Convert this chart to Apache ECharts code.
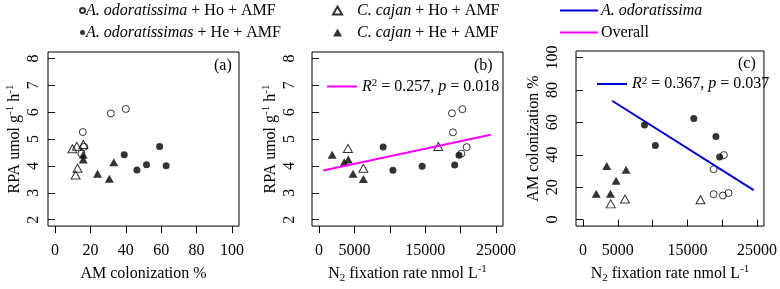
<!DOCTYPE html>
<html>
<head>
<meta charset="utf-8">
<script src="https://cdn.jsdelivr.net/npm/echarts@6/dist/echarts.min.js"></script>
<style>
  html, body { margin: 0; padding: 0; background: #fff; }
  #chart { width: 780px; height: 289px; }
</style>
</head>
<body>
<div id="chart"></div>
<script>
// series names
var nAoHo = 'A. odoratissima + Ho + AMF';
var nAoHe = 'A. odoratissimas + He + AMF';
var nCcHo = 'C. cajan + Ho + AMF';
var nCcHe = 'C. cajan + He + AMF';

// panel (a): AM colonization % vs RPA
var aoHoA = [[31.5, 5.95], [40.0, 6.12], [15.7, 5.26], [16.5, 4.71], [14.9, 4.46]];
var aoHeA = [[39.1, 4.42], [59.1, 4.72], [46.3, 3.85], [51.7, 4.04], [62.8, 4.01]];
var ccHoA = [[9.8, 4.64], [12.3, 4.73], [16.0, 4.80], [12.7, 3.91], [11.6, 3.66]];
var ccHeA = [[15.9, 4.42], [15.9, 4.24], [24.0, 3.71], [30.7, 3.52], [33.2, 4.14]];

// panel (b): N2 fixation rate vs RPA
var aoHoB = [[18780, 5.96], [20260, 6.11], [18920, 5.25], [20870, 4.70], [20120, 4.46]];
var aoHeB = [[9060, 4.70], [10440, 3.84], [14570, 3.99], [19170, 4.03], [19780, 4.40]];
var ccHoB = [[4080, 4.65], [6260, 3.91], [16850, 4.72]];
var ccHeB = [[1850, 4.42], [3560, 4.14], [4130, 4.24], [4800, 3.71], [6260, 3.51]];

// panel (c): N2 fixation rate vs AM colonization %
var aoHoC = [[18770, 31.1], [20240, 39.8], [18770, 15.7], [20100, 14.9], [20910, 16.4]];
var aoHeC = [[8840, 58.4], [10400, 45.7], [15920, 62.4], [19100, 51.3], [19630, 38.6]];
var ccHoC = [[3990, 9.7], [6040, 12.7], [16880, 12.3]];
var ccHeC = [[1910, 15.9], [3420, 33.1], [3950, 15.9], [4760, 24.0], [6190, 30.7]];

// fitted regression lines (end points)
var overallFit = [[570, 3.83], [24290, 5.16]];
var aoFit = [[4190, 73.3], [24520, 18.2]];

// tick labels
var amTicks = [0, 20, 40, 60, 80, 100];
var n2Ticks = [0, 5000, 10000, 15000, 20000, 25000];
var n2Labels = [0, 5000, 15000, 25000];
var rpaTicks = [2, 3, 4, 5, 6, 7, 8];
var amcTicks = [0, 20, 40, 60, 80, 100];

var font = 'Liberation Serif';
var rich = {
  i: {fontFamily: font, fontSize: 16, fontStyle: 'italic', color: '#000'},
  sup: {fontFamily: font, fontSize: 11, lineHeight: 11, verticalAlign: 'top', color: '#000'},
  sub: {fontFamily: font, fontSize: 11, lineHeight: 11, verticalAlign: 'bottom', color: '#000'}
};

var chart = echarts.init(document.getElementById('chart'));

function pts(name, data, idx, symbol, filled, size) {
  return {
    type: 'scatter',
    name: name,
    data: data,
    xAxisIndex: idx,
    yAxisIndex: idx,
    symbol: symbol,
    symbolSize: size,
    itemStyle: filled ? {color: '#000'} : {color: 'rgba(0,0,0,0)', borderColor: '#000', borderWidth: 1},
    emphasis: {disabled: true},
    silent: true
  };
}

function fit(name, data, idx, color) {
  return {
    type: 'line',
    name: name,
    data: data,
    xAxisIndex: idx,
    yAxisIndex: idx,
    symbol: 'none',
    color: color,
    lineStyle: {color: color, width: 2},
    emphasis: {disabled: true},
    silent: true
  };
}

function xAxis(idx, min, max, ticks, labels, name) {
  return {
    type: 'value', gridIndex: idx, min: min, max: max,
    axisLine: {show: false},
    splitLine: {show: false},
    axisTick: {show: true, length: 7, customValues: ticks, lineStyle: {color: '#000'}},
    axisLabel: {customValues: labels, margin: 17, color: '#000', fontFamily: font, fontSize: 16,
      formatter: function (v) { return String(v); }},
    name: name, nameLocation: 'middle', nameGap: 37,
    nameTextStyle: {color: '#000', fontFamily: font, fontSize: 16, lineHeight: 20, rich: rich}
  };
}

function yAxis(idx, min, max, ticks, name, margin, gap) {
  return {
    type: 'value', gridIndex: idx, min: min, max: max,
    axisLine: {show: false},
    splitLine: {show: false},
    axisTick: {show: true, length: 7, customValues: ticks, lineStyle: {color: '#000'}},
    axisLabel: {customValues: ticks, rotate: 90, margin: margin, color: '#000', fontFamily: font, fontSize: 16,
      formatter: function (v) { return String(v); }},
    name: name, nameLocation: 'middle', nameGap: gap,
    nameTextStyle: {color: '#000', fontFamily: font, fontSize: 16, lineHeight: 20, rich: rich}
  };
}

var rpaName = 'RPA umol g{sup|-1} h{sup|-1}';
var n2Name = 'N{sub|2} fixation rate nmol L{sup|-1}';

function italicName(name) {
  if (name === 'Overall') return name;
  var k = name.indexOf(' + ');
  if (k < 0) return '{i|' + name + '}';
  return '{i|' + name.slice(0, k) + '}' + name.slice(k);
}

function legendText(pad) {
  return {color: '#000', fontFamily: font, fontSize: 16, lineHeight: 17, padding: pad, rich: rich};
}

var option = {
  animation: false,
  textStyle: {fontFamily: font},
  grid: [
    {left: 48, top: 52, width: 191, height: 181.5, show: true, borderColor: '#000', borderWidth: 1},
    {left: 312, top: 52, width: 191, height: 181.5, show: true, borderColor: '#000', borderWidth: 1},
    {left: 576, top: 51, width: 189, height: 182, show: true, borderColor: '#000', borderWidth: 1}
  ],
  xAxis: [
    xAxis(0, -4, 104, amTicks, amTicks, 'AM colonization %'),
    xAxis(1, -1000, 26000, n2Ticks, n2Labels, n2Name),
    xAxis(2, -1000, 26000, n2Ticks, n2Labels, n2Name)
  ],
  yAxis: [
    yAxis(0, 1.76, 8.24, rpaTicks, rpaName, 6, 18),
    yAxis(1, 1.76, 8.24, rpaTicks, rpaName, 14, 28),
    yAxis(2, -4, 104, amcTicks, 'AM colonization %', 15, 30)
  ],
  title: [
    {text: '(a)', left: 214, top: 58, padding: 0, textStyle: {fontFamily: font, fontSize: 16, fontWeight: 'normal', color: '#000'}},
    {text: '(b)', left: 474, top: 58, padding: 0, textStyle: {fontFamily: font, fontSize: 16, fontWeight: 'normal', color: '#000'}},
    {text: '(c)', left: 738, top: 56, padding: 0, textStyle: {fontFamily: font, fontSize: 16, fontWeight: 'normal', color: '#000'}}
  ],
  legend: [
    {
      left: 79, top: 2, padding: 0, orient: 'vertical', itemWidth: 5, itemHeight: 5, itemGap: 5,
      selectedMode: false, data: [nAoHo, nAoHe], formatter: italicName, textStyle: legendText([0, 0, 0, -4])
    },
    {
      left: 332, top: 2, padding: 0, orient: 'vertical', itemWidth: 9, itemHeight: 8, itemGap: 5,
      selectedMode: false, data: [nCcHo, nCcHe], formatter: italicName, textStyle: legendText([0, 0, 0, 10])
    },
    {
      left: 560, top: 2, padding: 0, orient: 'vertical', itemWidth: 38, itemHeight: 2, itemGap: 5,
      selectedMode: false, icon: 'rect', data: ['A. odoratissima', 'Overall'], formatter: italicName,
      textStyle: legendText([0, 0, 0, -2])
    },
    {
      left: 327, top: 78, padding: 0, itemWidth: 30, itemHeight: 2, icon: 'rect', selectedMode: false,
      data: ['Overall'], textStyle: legendText(0),
      formatter: function () { return '{i|R}{sup|2} = 0.257, {i|p} = 0.018'; }
    },
    {
      left: 597, top: 75.5, padding: 0, itemWidth: 30, itemHeight: 2, icon: 'rect', selectedMode: false,
      data: ['A. odoratissima'], textStyle: legendText(0),
      formatter: function () { return '{i|R}{sup|2} = 0.367, {i|p} = 0.037'; }
    }
  ],
  series: [
    pts(nAoHo, aoHoA, 0, 'circle', false, 7),
    pts(nAoHe, aoHeA, 0, 'circle', true, 7),
    pts(nCcHo, ccHoA, 0, 'triangle', false, [9, 8]),
    pts(nCcHe, ccHeA, 0, 'triangle', true, [9, 8]),

    pts(nAoHo, aoHoB, 1, 'circle', false, 7),
    pts(nAoHe, aoHeB, 1, 'circle', true, 7),
    pts(nCcHo, ccHoB, 1, 'triangle', false, [9, 8]),
    pts(nCcHe, ccHeB, 1, 'triangle', true, [9, 8]),
    fit('Overall', overallFit, 1, '#ff00ff'),

    pts(nAoHo, aoHoC, 2, 'circle', false, 7),
    pts(nAoHe, aoHeC, 2, 'circle', true, 7),
    pts(nCcHo, ccHoC, 2, 'triangle', false, [9, 8]),
    pts(nCcHe, ccHeC, 2, 'triangle', true, [9, 8]),
    fit('A. odoratissima', aoFit, 2, '#0000cd')
  ]
};

chart.setOption(option);
</script>
</body>
</html>
